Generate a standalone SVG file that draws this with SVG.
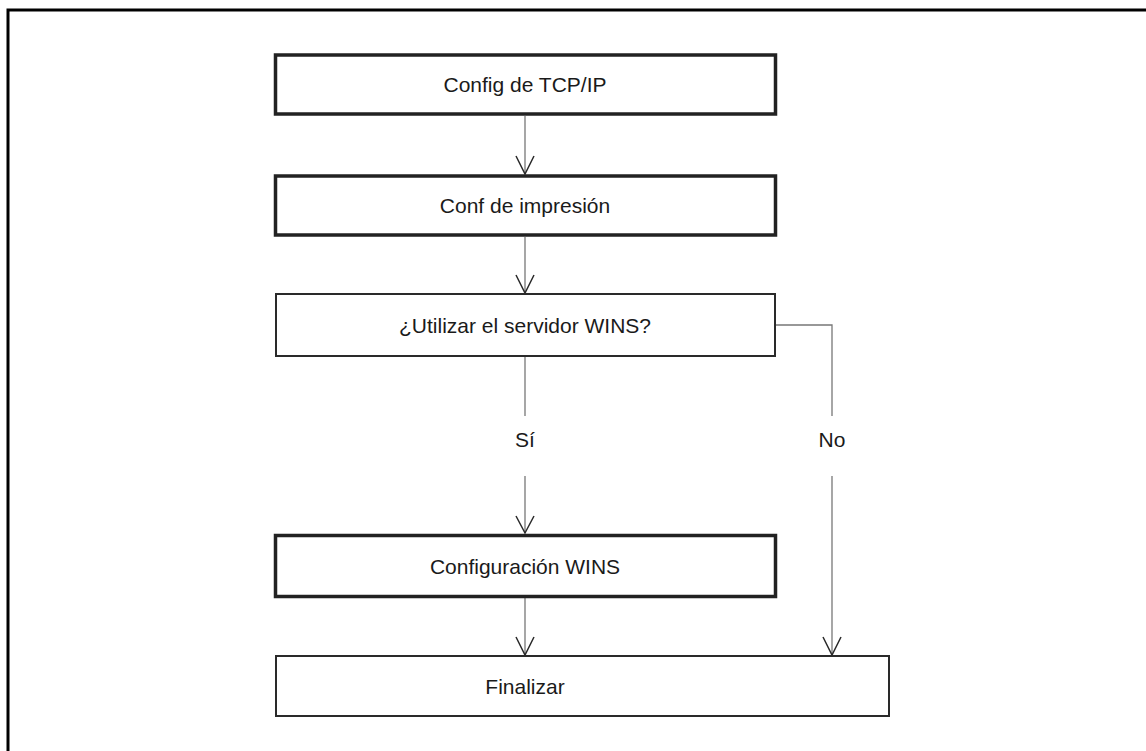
<svg xmlns="http://www.w3.org/2000/svg" width="1146" height="751" viewBox="0 0 1146 751">
<style>
.frame{fill:none;stroke:#000;stroke-width:3}
.bold{fill:#fff;stroke:#222;stroke-width:3.5}
.thin{fill:#fff;stroke:#2a2a2a;stroke-width:2}
.lbl{font-family:"Liberation Sans",Arial,sans-serif;font-size:21px;fill:#1a1a1a;text-anchor:middle}
.ln{fill:none;stroke:#777;stroke-width:1.3}
.head{fill:none;stroke:#2a2a2a;stroke-width:1.5}
</style>
<rect width="1146" height="751" fill="#fff"/>
<path class="frame" d="M8,751 V10 H1146"/>
<g id="connectors">
  <line class="ln" x1="525" y1="116" x2="525" y2="174"/>
  <path class="head" d="M516,156 L525,174 L534,156"/>
  <line class="ln" x1="525" y1="237" x2="525" y2="293"/>
  <path class="head" d="M516,275 L525,293 L534,275"/>
  <line class="ln" x1="525" y1="357" x2="525" y2="416"/>
  <line class="ln" x1="525" y1="476" x2="525" y2="533"/>
  <path class="head" d="M516,516 L525,533 L534,516"/>
  <line class="ln" x1="525" y1="598" x2="525" y2="655"/>
  <path class="head" d="M516,637 L525,655 L534,637"/>
  <path class="ln" d="M776,325 H832 V416"/>
  <line class="ln" x1="832" y1="476" x2="832" y2="655"/>
  <path class="head" d="M823,637 L832,655 L841,637"/>
  <text class="lbl" x="525" y="447">Sí</text>
  <text class="lbl" x="832" y="447">No</text>
</g>
<g id="tcpip">
  <rect class="bold" x="275.5" y="55" width="500" height="59"/>
  <text class="lbl" x="525" y="92">Config de TCP/IP</text>
</g>
<g id="impresion">
  <rect class="bold" x="275.5" y="176" width="500" height="59"/>
  <text class="lbl" x="525" y="213">Conf de impresión</text>
</g>
<g id="wins-decision">
  <rect class="thin" x="276" y="294" width="499" height="62"/>
  <text class="lbl" x="525" y="333">¿Utilizar el servidor WINS?</text>
</g>
<g id="wins-config">
  <rect class="bold" x="275.5" y="535.5" width="500" height="61"/>
  <text class="lbl" x="525" y="574">Configuración WINS</text>
</g>
<g id="finalizar">
  <rect class="thin" x="276" y="656" width="613" height="60"/>
  <text class="lbl" x="525" y="694">Finalizar</text>
</g>
</svg>
